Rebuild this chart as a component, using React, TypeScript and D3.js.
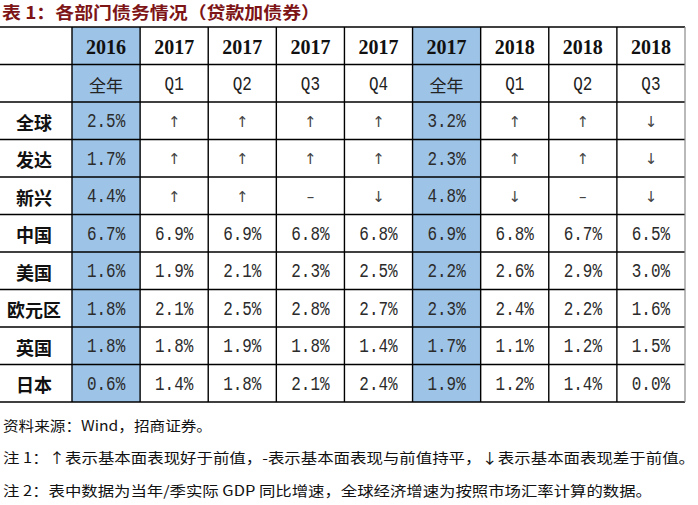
import React from "react";
import * as d3 from "d3";

const title = "表 1：各部门债务情况（贷款加债券）";
const years = ["2016", "2017", "2017", "2017", "2017", "2017", "2018", "2018", "2018"];
const periods = ["全年", "Q1", "Q2", "Q3", "Q4", "全年", "Q1", "Q2", "Q3"];
const highlighted = [0, 5];
const regions = ["全球", "发达", "新兴", "中国", "美国", "欧元区", "英国", "日本"];
const rowGlobal = ["2.5%", "↑", "↑", "↑", "↑", "3.2%", "↑", "↑", "↓"];
const rowDeveloped = ["1.7%", "↑", "↑", "↑", "↑", "2.3%", "↑", "↑", "↓"];
const rowEmerging = ["4.4%", "↑", "↑", "–", "↓", "4.8%", "↓", "–", "↓"];
const rowChina = ["6.7%", "6.9%", "6.9%", "6.8%", "6.8%", "6.9%", "6.8%", "6.7%", "6.5%"];
const rowUS = ["1.6%", "1.9%", "2.1%", "2.3%", "2.5%", "2.2%", "2.6%", "2.9%", "3.0%"];
const rowEuro = ["1.8%", "2.1%", "2.5%", "2.8%", "2.7%", "2.3%", "2.4%", "2.2%", "1.6%"];
const rowUK = ["1.8%", "1.8%", "1.9%", "1.8%", "1.4%", "1.7%", "1.1%", "1.2%", "1.5%"];
const rowJapan = ["0.6%", "1.4%", "1.8%", "2.1%", "2.4%", "1.9%", "1.2%", "1.4%", "0.0%"];
const notes = [
  "资料来源：Wind，招商证券。",
  "注 1：↑表示基本面表现好于前值，-表示基本面表现与前值持平，↓表示基本面表现差于前值。",
  "注 2：表中数据为当年/季实际 GDP 同比增速，全球经济增速为按照市场汇率计算的数据。",
];

const W = 698;
const H = 505;
const tableLeft = 0;
const firstColRight = 72;
const tableRight = 685;
const tableTop = 27;
const tableBottom = 402;

export default function App() {
  const rows = [rowGlobal, rowDeveloped, rowEmerging, rowChina, rowUS, rowEuro, rowUK, rowJapan];
  const colIdx = d3.range(years.length);
  const x = d3.scaleBand<number>().domain(colIdx).range([firstColRight, tableRight]);
  const rowIdx = d3.range(rows.length + 2);
  const y = d3.scaleBand<number>().domain(rowIdx).range([tableTop, tableBottom]);
  const bw = x.bandwidth();
  const bh = y.bandwidth();
  const cx = (i: number) => (x(i) as number) + bw / 2;
  const cy = (r: number) => (y(r) as number) + bh / 2;

  const monoText = (txt: string, px: number, py: number, key: string, fill = "#2b2b2b") => {
    const isArrow = txt === "↑" || txt === "↓";
    const isDash = txt === "–";
    if (isArrow) {
      return (
        <text key={key} x={px} y={py + 1} textAnchor="middle" dominantBaseline="central"
          fontFamily="DejaVu Sans" fontSize={15} fill="#444">{txt}</text>
      );
    }
    if (isDash) {
      return (
        <text key={key} x={px} y={py + 1} textAnchor="middle" dominantBaseline="central"
          fontFamily="DejaVu Sans" fontSize={15} fill="#444">{"–"}</text>
      );
    }
    return (
      <text key={key} transform={`translate(${px},${py + 1}) scale(0.76,1)`} textAnchor="middle"
        dominantBaseline="central" fontFamily="Liberation Mono" fontSize={21} fill={fill}>{txt}</text>
    );
  };

  return (
    <svg width={W} height={H} style={{ position: "absolute", left: 0, top: 0, background: "#fff" }}>
      <rect x={0} y={0} width={W} height={H} fill="#fff" />
      <text x={2} y={19} fontFamily="Noto Sans CJK SC" fontWeight={700} fontSize={17} fill="#7d1416"
        textLength={318} lengthAdjust="spacingAndGlyphs">{title}</text>

      {highlighted.map((c) => (
        <rect key={"hl" + c} x={x(c)} y={tableTop} width={bw} height={tableBottom - tableTop} fill="#9dc3e6" />
      ))}

      {rowIdx.concat([rowIdx.length]).map((r) => {
        const yy = r === rowIdx.length ? tableBottom : (y(r) as number);
        return <line key={"h" + r} x1={tableLeft} x2={tableRight} y1={yy} y2={yy} stroke="#000" strokeWidth={1.4} />;
      })}
      {colIdx.map((c) => (
        <line key={"v" + c} x1={x(c)} x2={x(c)} y1={tableTop} y2={tableBottom} stroke="#000" strokeWidth={1.4} />
      ))}
      <line x1={tableRight} x2={tableRight} y1={tableTop} y2={tableBottom} stroke="#8a8a8a" strokeWidth={1.2} />

      {years.map((yr, i) => (
        <text key={"yr" + i} x={cx(i)} y={cy(0) + 1} textAnchor="middle" dominantBaseline="central"
          fontFamily="Liberation Serif" fontWeight={700} fontSize={20} fill="#111">{yr}</text>
      ))}
      {periods.map((p, i) =>
        p === "全年" ? (
          <text key={"p" + i} x={cx(i)} y={cy(1) + 1} textAnchor="middle" dominantBaseline="central"
            fontFamily="Noto Sans CJK SC" fontSize={17} fill="#222">{p}</text>
        ) : (
          monoText(p, cx(i), cy(1), "p" + i, "#222")
        )
      )}
      {regions.map((rg, r) => (
        <text key={"rg" + r} x={(tableLeft + firstColRight) / 2 - 2} y={cy(r + 2) + 1} textAnchor="middle"
          dominantBaseline="central" fontFamily="Noto Sans CJK SC" fontWeight={700} fontSize={18} fill="#111">{rg}</text>
      ))}
      {rows.map((vals, r) => vals.map((v, i) => monoText(v, cx(i), cy(r + 2), `c${r}-${i}`)))}

      <text x={3} y={431} fontFamily="Noto Sans CJK SC" fontSize={14} fill="#111" textLength={209}
        lengthAdjust="spacingAndGlyphs">{notes[0]}</text>
      <text x={3} y={463} fontFamily="Noto Sans CJK SC" fontSize={14} fill="#111" textLength={692}
        lengthAdjust="spacingAndGlyphs">{notes[1]}</text>
      <text x={3} y={496} fontFamily="Noto Sans CJK SC" fontSize={14} fill="#111" textLength={649}
        lengthAdjust="spacingAndGlyphs">{notes[2]}</text>
    </svg>
  );
}
